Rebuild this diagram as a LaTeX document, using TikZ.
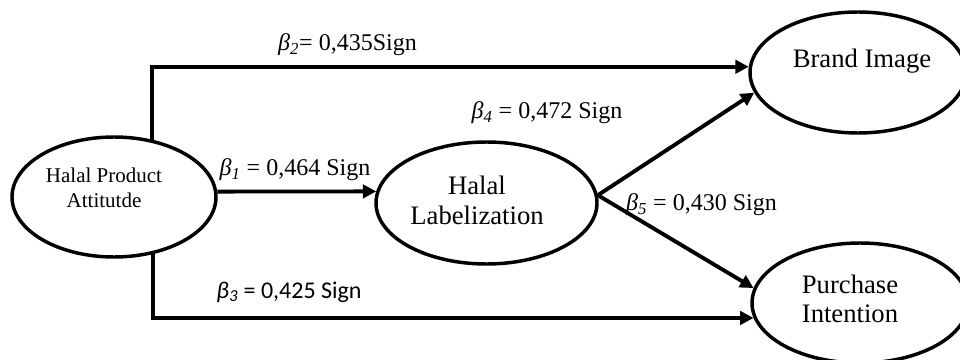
\documentclass[tikz,border=0pt]{standalone}
\usepackage{fontspec}
\setmainfont{Liberation Serif}
\newfontfamily\carlito{Carlito}
\usetikzlibrary{shapes.geometric,arrows.meta,backgrounds}
\begin{document}
\begin{tikzpicture}[x=0.75pt,y=-0.75pt,
  ell/.style={draw, ellipse, line width=2.6pt, fill=white, inner sep=0pt},
  conn/.style={line width=2.9pt, -{Triangle[length=10pt,width=10pt]}},
  lab/.style={font=\fontsize{18}{20}\selectfont, inner sep=0pt},
  ltxt/.style={font=\fontsize{20}{22.5}\selectfont, align=center, inner sep=0pt},
  stxt/.style={font=\fontsize{15.75}{18.75}\selectfont, align=center, inner sep=0pt}]
\useasboundingbox (0,0) rectangle (960,360);
\clip (0,0) rectangle (960,360);

% ellipses
\node[ell, minimum width=153pt, minimum height=90pt] (HPA) at (114,197) {};
\node[ell, minimum width=165.75pt, minimum height=91.5pt] (HL) at (486.5,203) {};
\node[ell, minimum width=162pt, minimum height=90.75pt] (BI) at (858,72.5) {};
\node[ell, minimum width=162pt, minimum height=90pt] (PI) at (860,303) {};

% texts in ellipses
\node[stxt] (tHPA) at (104,187.5) {Halal Product\\Attitutde};
\node[ltxt] (tHL) at (477,200) {Halal\\Labelization};
\node[ltxt] (tBI) at (862,61) {Brand Image};
\node[ltxt, font=\fontsize{20}{21.5}\selectfont] (tPI) at (850,299) {Purchase\\Intention};

% connectors
\coordinate (hpaT) at (152,180);
\coordinate (hpaB) at (153,215);
\begin{scope}[on background layer]
\draw[conn] (hpaT) |- (BI.177);
\draw[conn] (hpaB) |- (PI.188);
\end{scope}
\draw[conn] (HPA.3) -- (HL.174);
\draw[conn] (HL.4) -- (BI.191);
\draw[conn] (HL.4) -- (PI.172);

% labels
\node[lab] (l2) at (347.5,45) {{\itshape β\textsubscript{2}}= 0,435Sign};
\node[lab] (l4) at (547,113) {{\itshape β\textsubscript{4}} = 0,472 Sign};
\node[lab] (l1) at (295,170) {{\itshape β\textsubscript{1}} = 0,464 Sign};
\node[lab] (l5) at (701.5,205) {{\itshape β\textsubscript{5}} = 0,430 Sign};
\node[lab, font=\carlito\fontsize{18}{20}\selectfont] (l3) at (289,292) {{\itshape β\textsubscript{3}} = 0,425 Sign};
\end{tikzpicture}
\end{document}
